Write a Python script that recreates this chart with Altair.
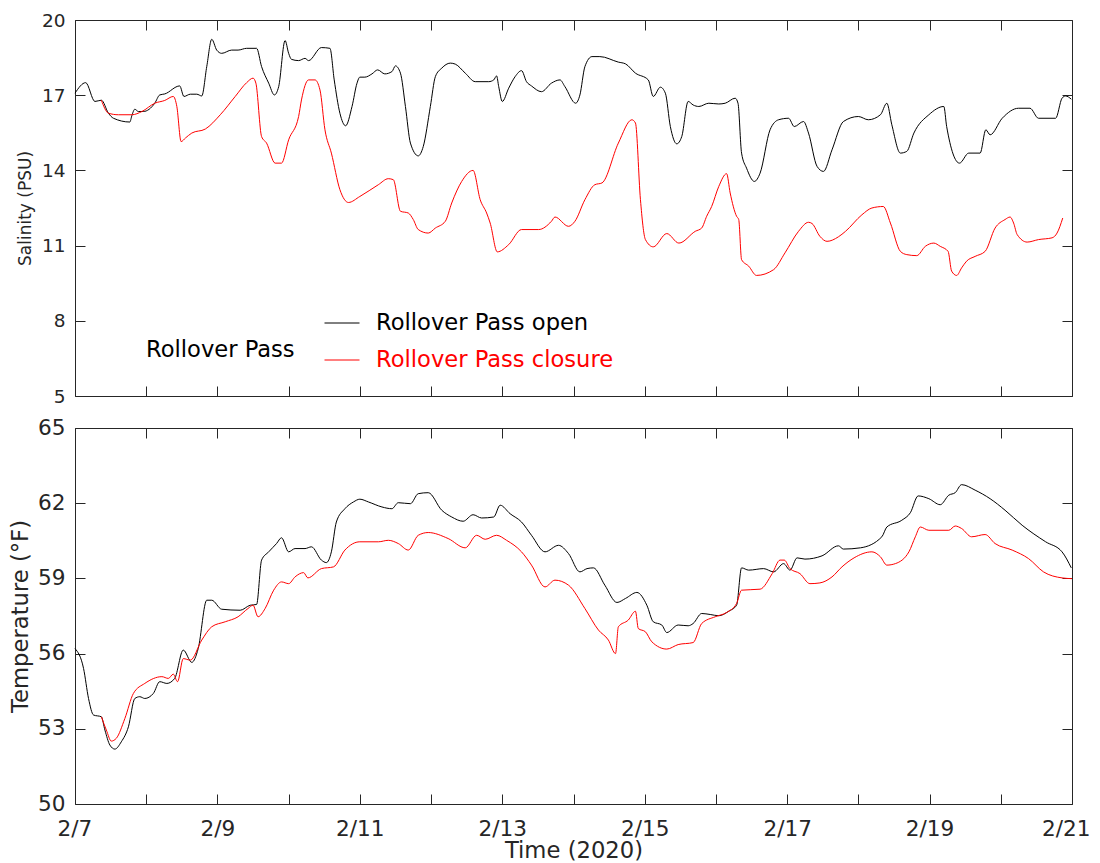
import altair as alt
import pandas as pd

# ---------------- data (x = days since 2/7/2020 00:00) ----------------
series_open = "Rollover Pass open"
series_close = "Rollover Pass closure"
site_name = "Rollover Pass"
start_day = 7  # February 7

sal_open_t = [0.00, 0.15, 0.28, 0.37, 0.47, 0.54, 0.77, 0.80, 0.84, 0.89, 0.96, 1.12, 1.19, 1.26,
              1.47, 1.53, 1.62, 1.71, 1.78, 1.85, 1.92, 1.99, 2.06, 2.20, 2.29, 2.41, 2.55, 2.62,
              2.72, 2.80, 2.86, 2.95, 3.00, 3.04, 3.14, 3.23, 3.28, 3.46, 3.58, 3.64, 3.72, 3.80,
              3.89, 3.96, 4.00, 4.07, 4.17, 4.25, 4.35, 4.45, 4.50, 4.57, 4.64, 4.71, 4.82, 4.89,
              4.99, 5.06, 5.15, 5.27, 5.34, 5.48, 5.62, 5.81, 5.88, 5.92, 5.95, 6.00, 6.09, 6.18,
              6.27, 6.34, 6.41, 6.55, 6.69, 6.81, 6.88, 7.03, 7.09, 7.16, 7.26, 7.37, 7.63, 7.73,
              7.87, 8.05, 8.12, 8.22, 8.29, 8.36, 8.45, 8.52, 8.61, 8.68, 8.76, 8.90, 9.04, 9.13,
              9.27, 9.31, 9.36, 9.43, 9.54, 9.62, 9.76, 9.88, 10.02, 10.10, 10.23, 10.30, 10.42,
              10.51, 10.63, 10.79, 11.00, 11.14, 11.31, 11.40, 11.47, 11.59, 11.68, 11.78, 11.99,
              12.20, 12.24, 12.42, 12.55, 12.71, 12.79, 12.85, 13.02, 13.25, 13.41, 13.53, 13.77,
              13.86, 13.91, 13.99]
sal_open_v = [17.08, 17.50, 16.75, 16.80, 16.28, 16.08, 15.93, 16.20, 16.44, 16.35, 16.35, 16.68,
              17.01, 17.05, 17.37, 16.95, 17.04, 17.04, 16.97, 18.14, 19.23, 18.80, 18.67, 18.80,
              18.80, 18.87, 18.87, 18.14, 17.48, 17.01, 17.34, 19.18, 18.67, 18.43, 18.38, 18.47,
              18.38, 18.90, 18.87, 17.61, 16.28, 15.78, 16.55, 17.48, 17.72, 17.72, 17.85, 18.01,
              17.85, 17.94, 18.17, 17.88, 16.55, 15.09, 14.58, 14.95, 16.55, 17.74, 18.08, 18.28,
              18.24, 17.88, 17.54, 17.54, 17.61, 17.77, 17.34, 16.75, 17.28, 17.74, 17.98, 17.54,
              17.37, 17.14, 17.48, 17.61, 17.34, 16.68, 17.01, 18.14, 18.54, 18.54, 18.32, 18.25,
              17.88, 17.61, 16.95, 17.32, 17.08, 15.75, 15.06, 15.35, 16.75, 16.61, 16.55, 16.68,
              16.65, 16.68, 16.88, 16.68, 14.69, 14.09, 13.56, 13.89, 15.62, 16.02, 16.08, 15.75,
              15.95, 15.49, 14.16, 13.96, 14.82, 15.95, 16.15, 16.02, 16.22, 16.68, 15.82, 14.69,
              14.76, 15.49, 16.22, 16.55, 15.75, 14.29, 14.69, 14.69, 15.62, 15.42, 16.08, 16.48,
              16.48, 16.08, 16.08, 16.88, 16.97, 16.84]

sal_close_t = [0.37, 0.47, 0.61, 0.80, 0.94, 1.12, 1.26, 1.38, 1.43, 1.49, 1.55, 1.64, 1.83, 2.04,
               2.25, 2.41, 2.50, 2.54, 2.62, 2.69, 2.81, 2.90, 3.00, 3.14, 3.18, 3.28, 3.37, 3.44,
               3.51, 3.60, 3.72, 3.84, 4.00, 4.26, 4.40, 4.47, 4.57, 4.68, 4.75, 4.82, 4.96, 5.06,
               5.20, 5.29, 5.43, 5.59, 5.69, 5.78, 5.83, 5.93, 6.09, 6.27, 6.51, 6.69, 6.74, 6.93,
               7.02, 7.16, 7.30, 7.40, 7.63, 7.82, 7.87, 7.94, 8.01, 8.12, 8.31, 8.48, 8.71, 8.80,
               8.87, 8.94, 9.04, 9.15, 9.20, 9.29, 9.32, 9.36, 9.46, 9.57, 9.81, 9.97, 10.16, 10.30,
               10.35, 10.46, 10.56, 10.72, 10.82, 11.05, 11.19, 11.35, 11.45, 11.59, 11.68, 11.82,
               11.94, 12.06, 12.15, 12.26, 12.31, 12.38, 12.45, 12.52, 12.64, 12.78, 12.92, 13.06,
               13.13, 13.18, 13.23, 13.37, 13.53, 13.72, 13.79, 13.87]
sal_close_v = [16.80, 16.28, 16.22, 16.22, 16.35, 16.68, 16.79, 16.95, 16.55, 15.15, 15.29, 15.49,
               15.65, 16.22, 16.95, 17.50, 17.68, 17.48, 15.35, 15.09, 14.29, 14.29, 15.22, 16.15,
               16.81, 17.61, 17.61, 17.21, 15.62, 14.69, 13.23, 12.72, 12.96, 13.43, 13.67, 13.63,
               12.37, 12.30, 12.04, 11.64, 11.50, 11.70, 11.97, 12.70, 13.56, 14.00, 12.83, 12.30,
               11.90, 10.75, 11.04, 11.64, 11.64, 11.97, 12.14, 11.77, 11.97, 12.83, 13.43, 13.50,
               15.09, 16.02, 15.89, 12.83, 11.24, 10.95, 11.48, 11.10, 11.57, 11.70, 12.17, 12.56,
               13.36, 13.87, 13.10, 12.17, 12.04, 10.44, 10.18, 9.81, 10.04, 10.71, 11.57, 11.93,
               11.88, 11.37, 11.17, 11.35, 11.57, 12.23, 12.50, 12.56, 11.90, 10.77, 10.64, 10.60,
               10.97, 11.10, 10.97, 10.77, 9.98, 9.81, 10.11, 10.38, 10.57, 10.77, 11.70, 12.04,
               12.14, 11.90, 11.44, 11.14, 11.24, 11.31, 11.50, 12.10]

temp_open_t = [0.00, 0.12, 0.19, 0.26, 0.37, 0.42, 0.49, 0.56, 0.65, 0.75, 0.84, 0.91, 0.98, 1.10,
               1.19, 1.29, 1.40, 1.52, 1.64, 1.73, 1.85, 1.92, 2.06, 2.32, 2.46, 2.55, 2.62, 2.72,
               2.83, 2.90, 3.00, 3.09, 3.23, 3.32, 3.46, 3.53, 3.60, 3.67, 3.79, 3.91, 4.00, 4.12,
               4.31, 4.45, 4.54, 4.71, 4.82, 4.96, 5.15, 5.29, 5.45, 5.59, 5.71, 5.88, 5.97, 6.11,
               6.27, 6.41, 6.60, 6.79, 6.93, 7.09, 7.19, 7.28, 7.44, 7.61, 7.73, 7.89, 8.03, 8.12,
               8.24, 8.31, 8.47, 8.61, 8.68, 8.80, 8.92, 9.04, 9.18, 9.29, 9.36, 9.46, 9.67, 9.81,
               9.95, 10.04, 10.14, 10.25, 10.49, 10.72, 10.79, 11.03, 11.33, 11.40, 11.61, 11.73,
               11.84, 11.99, 12.15, 12.27, 12.36, 12.45, 12.64, 12.85, 13.06, 13.30, 13.63, 13.86,
               13.99]
temp_open_v = [56.20, 55.41, 54.21, 53.55, 53.48, 52.95, 52.35, 52.19, 52.48, 53.08, 54.21, 54.28,
               54.21, 54.41, 54.88, 54.81, 55.01, 56.14, 55.65, 56.20, 58.13, 58.13, 57.77, 57.73,
               57.93, 57.96, 59.73, 60.06, 60.39, 60.62, 60.06, 60.19, 60.19, 60.26, 59.73, 59.63,
               60.06, 61.25, 61.78, 62.05, 62.16, 62.05, 61.85, 61.78, 62.02, 61.98, 62.38, 62.42,
               61.72, 61.45, 61.28, 61.54, 61.41, 61.45, 61.92, 61.58, 61.25, 60.72, 60.06, 60.32,
               59.99, 59.26, 59.39, 59.42, 58.73, 58.04, 58.20, 58.44, 57.93, 57.27, 57.14, 56.84,
               57.14, 57.11, 57.20, 57.60, 57.56, 57.51, 57.69, 57.93, 59.42, 59.33, 59.39, 59.26,
               59.59, 59.33, 59.82, 59.77, 59.90, 60.30, 60.17, 60.22, 60.66, 61.05, 61.32, 61.62,
               62.29, 62.18, 61.94, 62.32, 62.42, 62.74, 62.52, 62.18, 61.72, 61.12, 60.46, 60.06,
               59.42]

temp_close_t = [0.37, 0.44, 0.51, 0.58, 0.70, 0.82, 0.98, 1.22, 1.31, 1.38, 1.44, 1.52, 1.62, 1.78,
                1.92, 2.11, 2.29, 2.43, 2.50, 2.57, 2.67, 2.79, 2.90, 3.00, 3.09, 3.21, 3.27, 3.46,
                3.63, 3.79, 4.00, 4.26, 4.40, 4.54, 4.68, 4.82, 4.96, 5.24, 5.48, 5.64, 5.76, 5.92,
                6.06, 6.27, 6.41, 6.60, 6.74, 6.93, 7.16, 7.35, 7.49, 7.59, 7.63, 7.77, 7.87, 7.91,
                8.01, 8.10, 8.31, 8.47, 8.68, 8.80, 8.99, 9.15, 9.29, 9.36, 9.62, 9.79, 9.90, 9.96,
                10.04, 10.18, 10.32, 10.46, 10.63, 10.77, 10.94, 11.19, 11.31, 11.40, 11.52, 11.71,
                11.80, 11.87, 11.99, 12.27, 12.36, 12.45, 12.59, 12.78, 12.92, 13.16, 13.39, 13.60,
                13.86, 14.00]
temp_close_v = [53.48, 52.95, 52.51, 52.62, 53.41, 54.41, 54.81, 55.08, 55.01, 55.18, 54.88, 55.80,
                55.74, 56.54, 57.07, 57.27, 57.47, 57.80, 57.93, 57.47, 57.80, 58.53, 58.86, 58.79,
                59.06, 59.23, 59.02, 59.39, 59.46, 60.13, 60.46, 60.46, 60.52, 60.39, 60.13, 60.72,
                60.83, 60.59, 60.22, 60.72, 60.56, 60.72, 60.52, 60.06, 59.53, 58.66, 58.93, 58.73,
                57.80, 56.94, 56.54, 56.00, 57.07, 57.34, 57.69, 57.00, 56.87, 56.47, 56.18, 56.36,
                56.44, 57.20, 57.47, 57.64, 58.00, 58.53, 58.57, 59.19, 59.73, 59.73, 59.39, 59.19,
                58.79, 58.82, 59.06, 59.46, 59.82, 60.06, 59.86, 59.53, 59.59, 60.06, 60.66, 61.05,
                60.92, 60.92, 61.09, 60.99, 60.66, 60.75, 60.39, 60.13, 59.79, 59.26, 59.02, 58.99]

sal_ticks = [5, 8, 11, 14, 17, 20]
temp_ticks = [50, 53, 56, 59, 62, 65]
day_ticks = list(range(0, 15))

# ---------------- styling ----------------
FONT = "DejaVu Sans"
INK = "#262626"
W, H = 997, 376
LEG_FS = 22.6


def frame(t, v, name):
    return pd.DataFrame({"t": t, "v": v, "series": name})


def y_axes(yticks, title, label_size, title_size, title_pad):
    left = alt.Axis(orient="left", values=yticks, offset=-10, tickSize=10, domain=False,
                    grid=False, labelFontSize=label_size, labelPadding=10, labelColor=INK,
                    tickColor=INK, labelFont=FONT, title=title, titleFontSize=title_size,
                    titleFontWeight="normal", titleColor=INK, titleFont=FONT,
                    titlePadding=title_pad)
    right = alt.Axis(orient="right", values=yticks, offset=-10, tickSize=10, domain=False,
                     grid=False, labels=False, tickColor=INK, title=None)
    return left, right


def x_axes(show_labels):
    if show_labels:
        bottom = alt.Axis(orient="bottom", values=day_ticks, offset=-10, tickSize=10,
                          domain=False, grid=False, labelFontSize=21.6, labelPadding=14,
                          labelColor=INK, tickColor=INK, labelFont=FONT, labelFlush=True,
                          labelFlushOffset=18, labelOverlap=False,
                          labelExpr=f"datum.value % 2 == 0 ? '2/' + ({start_day} + datum.value) : ''",
                          title="Time (2020)", titleFontSize=22.7, titleFontWeight="normal",
                          titleColor=INK, titleFont=FONT, titlePadding=0)
    else:
        bottom = alt.Axis(orient="bottom", values=day_ticks, offset=-10, tickSize=10,
                          domain=False, grid=False, labels=False, tickColor=INK, title=None)
    top = alt.Axis(orient="top", values=day_ticks, offset=-10, tickSize=10, domain=False,
                   grid=False, labels=False, tickColor=INK, title=None)
    return bottom, top


def panel(df_open, df_close, ydom, yticks, ytitle, ylab, ytit, ypad, show_x, legends):
    xs = alt.Scale(domain=[0, 14], nice=False, zero=False)
    ys = alt.Scale(domain=ydom, nice=False, zero=False)
    yl, yr = y_axes(yticks, ytitle, ylab, ytit, ypad)
    xb, xt = x_axes(show_x)

    if legends:
        leg_open = alt.Legend(orient="none", legendX=249, legendY=285, title=None,
                              symbolType="stroke", symbolSize=1225, symbolStrokeWidth=1,
                              labelFontSize=LEG_FS, labelFont=FONT, labelColor="black",
                              labelOffset=16, padding=0, labelLimit=400)
        leg_close = alt.Legend(orient="none", legendX=71, legendY=322, title=site_name,
                               titleOrient="left", titleFontSize=LEG_FS, titleFont=FONT,
                               titleFontWeight="normal", titleColor="black", titlePadding=29,
                               titleBaseline="alphabetic", titleLimit=400,
                               symbolType="stroke", symbolSize=1225, symbolStrokeWidth=1,
                               labelFontSize=LEG_FS, labelFont=FONT, labelColor="red",
                               labelOffset=16, padding=0, labelLimit=400)
    else:
        leg_open = None
        leg_close = None

    c_open = alt.Color("series:N", scale=alt.Scale(domain=[series_open], range=["black"]),
                       legend=leg_open)
    c_close = alt.Color("series:N", scale=alt.Scale(domain=[series_close], range=["red"]),
                        legend=leg_close)

    l_open = alt.Chart(df_open).mark_line(strokeWidth=1, interpolate="monotone").encode(
        x=alt.X("t:Q", scale=xs, axis=xb),
        y=alt.Y("v:Q", scale=ys, axis=yl),
        color=c_open,
    )
    l_close = alt.Chart(df_close).mark_line(strokeWidth=1, interpolate="monotone").encode(
        x=alt.X("t:Q", scale=xs, axis=xt),
        y=alt.Y("v:Q", scale=ys, axis=yr),
        color=c_close,
    )
    return alt.layer(l_open, l_close).resolve_scale(color="independent").resolve_axis(
        x="independent", y="independent").properties(width=W, height=H)


top = panel(frame(sal_open_t, sal_open_v, series_open),
            frame(sal_close_t, sal_close_v, series_close),
            [5, 20], sal_ticks, "Salinity (PSU)", 18.5, 17, 7, False, True)
bottom = panel(frame(temp_open_t, temp_open_v, series_open),
               frame(temp_close_t, temp_close_v, series_close),
               [50, 65], temp_ticks, "Temperature (°F)", 21.6, 22.7, 5.2, True, False)

chart = alt.vconcat(top, bottom, spacing=10).properties(
    padding={"left": 0, "top": 2, "right": 0, "bottom": 0}
).configure(font=FONT).configure_view(stroke=INK, strokeWidth=1)

chart.save("out.html", embed_options={"renderer": "svg", "actions": False})
